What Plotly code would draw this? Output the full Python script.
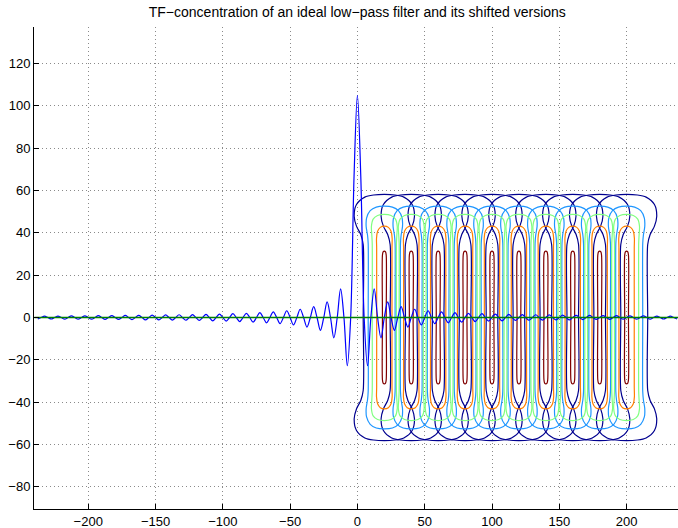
import plotly.graph_objects as go

# ---------------- data ----------------
# ideal low-pass impulse response (real part), sampled every 2.5 units for x >= 0
sinc_step = 2.5
sinc_peak = 105.0
sinc_half_lobe = 66.8
# |extremum| of each side lobe (k = 1, 2, ...)
sinc_lobe_amp = [22.8, 13.5, 9.6, 7.4, 6.1, 5.1, 4.5, 3.9, 3.5, 3.2, 2.9, 2.7, 2.5,
                 2.3, 2.2, 2.0, 1.9, 1.8, 1.7, 1.6, 1.6, 1.5, 1.4, 1.4, 1.3, 1.3,
                 1.2, 1.2, 1.1, 1.1, 1.1, 1.0, 1.0, 1.0, 0.9, 0.9, 0.9, 0.9, 0.8,
                 0.8, 0.8, 0.8, 0.8, 0.7, 0.7, 0.7, 0.7]

# imaginary part (zero line)
imag_x = [-240, 240]
imag_y = [0, 0]

# centres of the shifted filters
shift_centres = [20, 40, 60, 80, 100, 120, 140, 160, 180, 200]

# contour templates: right half outline, from top (dx=0) down to y=0
lvl_dx = [
    [0, 8, 14.5, 20.7, 22.4, 20.7, 17.5, 15.7, 15.7],
    [0, 6, 10.5, 13.2, 13.5, 12.5, 12.0, 12.0],
    [0, 5, 8.3, 9.6, 9.3, 9.0, 9.0],
    [0, 3, 5.0, 5.8, 5.7, 5.7],
    [0, 0.9, 1.4, 1.4],
]
lvl_y = [
    [58.2, 57.9, 56.9, 53.4, 47.9, 43.2, 39.2, 34.5, 0],
    [52.6, 52.2, 50.5, 47.0, 43.0, 39.0, 35.0, 0],
    [48.7, 48.2, 46.5, 43.0, 39.0, 35.0, 0],
    [43.2, 42.6, 40.8, 37.5, 33.0, 0],
    [31.4, 31.0, 29.5, 0],
]
lvl_colors = ["#00008F", "#1E96FF", "#80FF80", "#FF8000", "#800000"]

x_ticks = [-200, -150, -100, -50, 0, 50, 100, 150, 200]
y_ticks = [-80, -60, -40, -20, 0, 20, 40, 60, 80, 100, 120]
x_range = [-240.3, 238.2]
y_range = [-90.5, 137.3]
title_text = "TF\u2212concentration of an ideal low\u2212pass filter and its shifted versions"

# ---------------- build ----------------
pos_y = [sinc_peak, sinc_half_lobe]
sign = -1
for a in sinc_lobe_amp:
    pos_y += [0.0, sign * a]
    sign = -sign
pos_x = [i * sinc_step for i in range(len(pos_y))]
sinc_x = [-v for v in pos_x[:0:-1]] + pos_x
sinc_y = pos_y[:0:-1] + pos_y

fig = go.Figure()

for dxs, ys, col in zip(lvl_dx, lvl_y, lvl_colors):
    right = list(zip(dxs, ys)) + [(d, -y) for d, y in reversed(list(zip(dxs, ys))[:-1])]
    left = [(-d, y) for d, y in reversed(right[:-1])]
    outline = right + left
    for c in shift_centres:
        fig.add_trace(go.Scatter(
            x=[c + d for d, _ in outline], y=[y for _, y in outline],
            mode="lines", line=dict(color=col, width=1.2, shape="spline", smoothing=0.8),
            hoverinfo="skip", showlegend=False))

fig.add_trace(go.Scatter(x=sinc_x, y=sinc_y, mode="lines",
                         line=dict(color="#0000FF", width=1.2, shape="spline", smoothing=1),
                         showlegend=False))
fig.add_trace(go.Scatter(x=imag_x, y=imag_y, mode="lines",
                         line=dict(color="#008000", width=1.5), showlegend=False))

axis_common = dict(
    showgrid=True, gridcolor="#8a8a8a", griddash="1px,3px", gridwidth=1,
    zeroline=False, showline=True, linecolor="black", linewidth=1,
    ticks="inside", ticklen=5, tickcolor="black", mirror=False,
    tickfont=dict(family="Liberation Sans, Arial, sans-serif", size=13, color="black"),
)
fig.update_xaxes(range=x_range, tickmode="array", tickvals=x_ticks, **axis_common)
fig.update_yaxes(range=y_range, tickmode="array", tickvals=y_ticks, **axis_common)

fig.update_layout(
    width=678, height=528,
    margin=dict(l=34, r=0, t=27, b=19),
    plot_bgcolor="white", paper_bgcolor="white",
    title=dict(text=title_text, x=0.527, xanchor="center", y=0.977, yanchor="middle",
               font=dict(family="Liberation Sans, Arial, sans-serif", size=14, color="black")),
    showlegend=False,
)

fig.write_html("out.html")
